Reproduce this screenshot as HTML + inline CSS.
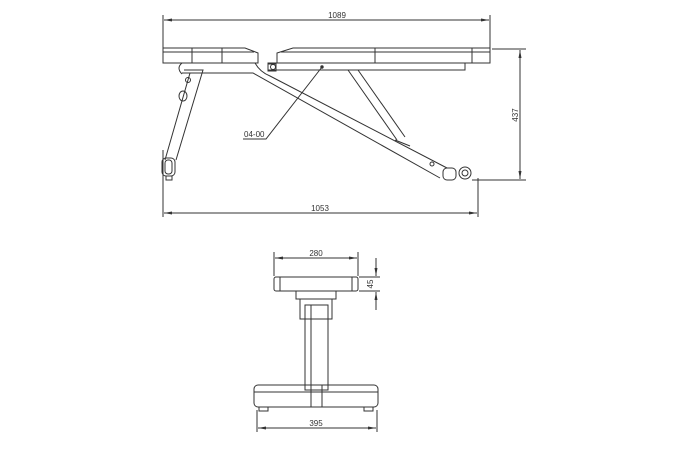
<!DOCTYPE html>
<html><head><meta charset="utf-8"><style>
html,body{margin:0;padding:0;background:#fff;}
svg{display:block}
text{font-family:"Liberation Sans",sans-serif;font-size:8px;fill:#333}
</style></head><body>
<svg width="681" height="450" viewBox="0 0 681 450" xmlns="http://www.w3.org/2000/svg">
<defs>
<marker id="a" markerWidth="8" markerHeight="6" refX="8" refY="3" orient="auto-start-reverse" markerUnits="userSpaceOnUse"><path d="M0,1.5 L8,3 L0,4.5" fill="#333"/></marker>
</defs>
<g stroke="#333" stroke-width="1" fill="none">
<line x1="163" y1="15" x2="163" y2="60"/>
<line x1="490" y1="15" x2="490" y2="48"/>
<line x1="164" y1="20" x2="489" y2="20" marker-start="url(#a)" marker-end="url(#a)"/>
<line x1="492" y1="49" x2="526" y2="49"/>
<line x1="472" y1="180" x2="526" y2="180"/>
<line x1="520" y1="50" x2="520" y2="179" marker-start="url(#a)" marker-end="url(#a)"/>
<line x1="163" y1="150" x2="163" y2="217"/>
<line x1="478" y1="178" x2="478" y2="217"/>
<line x1="164" y1="213" x2="477" y2="213" marker-start="url(#a)" marker-end="url(#a)"/>
<path d="M163,48 H245 L258,53 V63 H163 Z"/>
<line x1="163" y1="52" x2="254" y2="52"/>
<line x1="192" y1="48" x2="192" y2="63"/><line x1="222" y1="48" x2="222" y2="63"/>
<path d="M490,48 H293 L277,53 V63 H490 Z"/>
<line x1="281" y1="52" x2="490" y2="52"/>
<line x1="375" y1="48" x2="375" y2="63"/><line x1="472" y1="48" x2="472" y2="63"/>
<rect x="268" y="63" width="197" height="7"/>
<rect x="268" y="64" width="8" height="7"/>
<circle cx="273" cy="67" r="2.5"/>
<line x1="180" y1="63" x2="255" y2="63"/>
<path d="M182,73 H253 L440,178"/>
<path d="M255,63 Q260,72 270,76 L447,168"/>
<path d="M182,63 Q176,68 182,74"/>
<line x1="348" y1="70" x2="397" y2="140"/>
<line x1="358" y1="70" x2="405" y2="137"/>
<line x1="395" y1="140" x2="410" y2="146"/>
<path d="M184,70 H203 L176,160"/>
<path d="M190,73 L165,160"/>
<circle cx="188" cy="80" r="2.5"/>
<ellipse cx="183" cy="96" rx="4" ry="5"/>
<rect x="162" y="158" width="13" height="18" rx="4"/>
<rect x="165" y="160" width="7" height="14" rx="3"/>
<rect x="166" y="176" width="6" height="4"/>
<circle cx="432" cy="164" r="2"/>
<rect x="443" y="168" width="13" height="12" rx="4"/>
<circle cx="465" cy="173" r="6"/>
<circle cx="465" cy="173" r="3"/>
<circle cx="322" cy="67" r="1.2" fill="#333"/>
<path d="M243,139 H266 L322,67"/>
</g>
<text x="337" y="18" text-anchor="middle">1089</text>
<text x="320" y="211" text-anchor="middle">1053</text>
<text x="244" y="137">04-00</text>
<text x="518" y="115" text-anchor="middle" transform="rotate(-90 518 115)">437</text>

<g stroke="#333" stroke-width="1" fill="none">
<line x1="274" y1="252" x2="274" y2="276"/>
<line x1="358" y1="252" x2="358" y2="276"/>
<line x1="275" y1="258" x2="357" y2="258" marker-start="url(#a)" marker-end="url(#a)"/>
<rect x="274" y="277" width="84" height="14" rx="2"/>
<line x1="280" y1="277" x2="280" y2="291"/><line x1="352" y1="277" x2="352" y2="291"/>
<line x1="359" y1="277" x2="380" y2="277"/><line x1="359" y1="291" x2="380" y2="291"/>
<line x1="376" y1="258" x2="376" y2="276" marker-end="url(#a)"/>
<line x1="376" y1="310" x2="376" y2="292" marker-end="url(#a)"/>
<rect x="296" y="291" width="40" height="8"/>
<rect x="300" y="299" width="32" height="20"/>
<rect x="305" y="305" width="23" height="85"/>
<line x1="311" y1="305" x2="311" y2="390"/>
<rect x="254" y="385" width="124" height="22" rx="4"/>
<line x1="254" y1="392" x2="378" y2="392"/>
<line x1="311" y1="385" x2="311" y2="407"/><line x1="322" y1="385" x2="322" y2="407"/>
<rect x="259" y="407" width="9" height="4"/><rect x="364" y="407" width="9" height="4"/>
<line x1="257" y1="410" x2="257" y2="432"/><line x1="377" y1="410" x2="377" y2="432"/>
<line x1="258" y1="428" x2="376" y2="428" marker-start="url(#a)" marker-end="url(#a)"/>
</g>
<text x="316" y="256" text-anchor="middle">280</text>
<text x="316" y="426" text-anchor="middle">395</text>
<text x="373" y="284" text-anchor="middle" transform="rotate(-90 373 284)">45</text>
</svg>
</body></html>
